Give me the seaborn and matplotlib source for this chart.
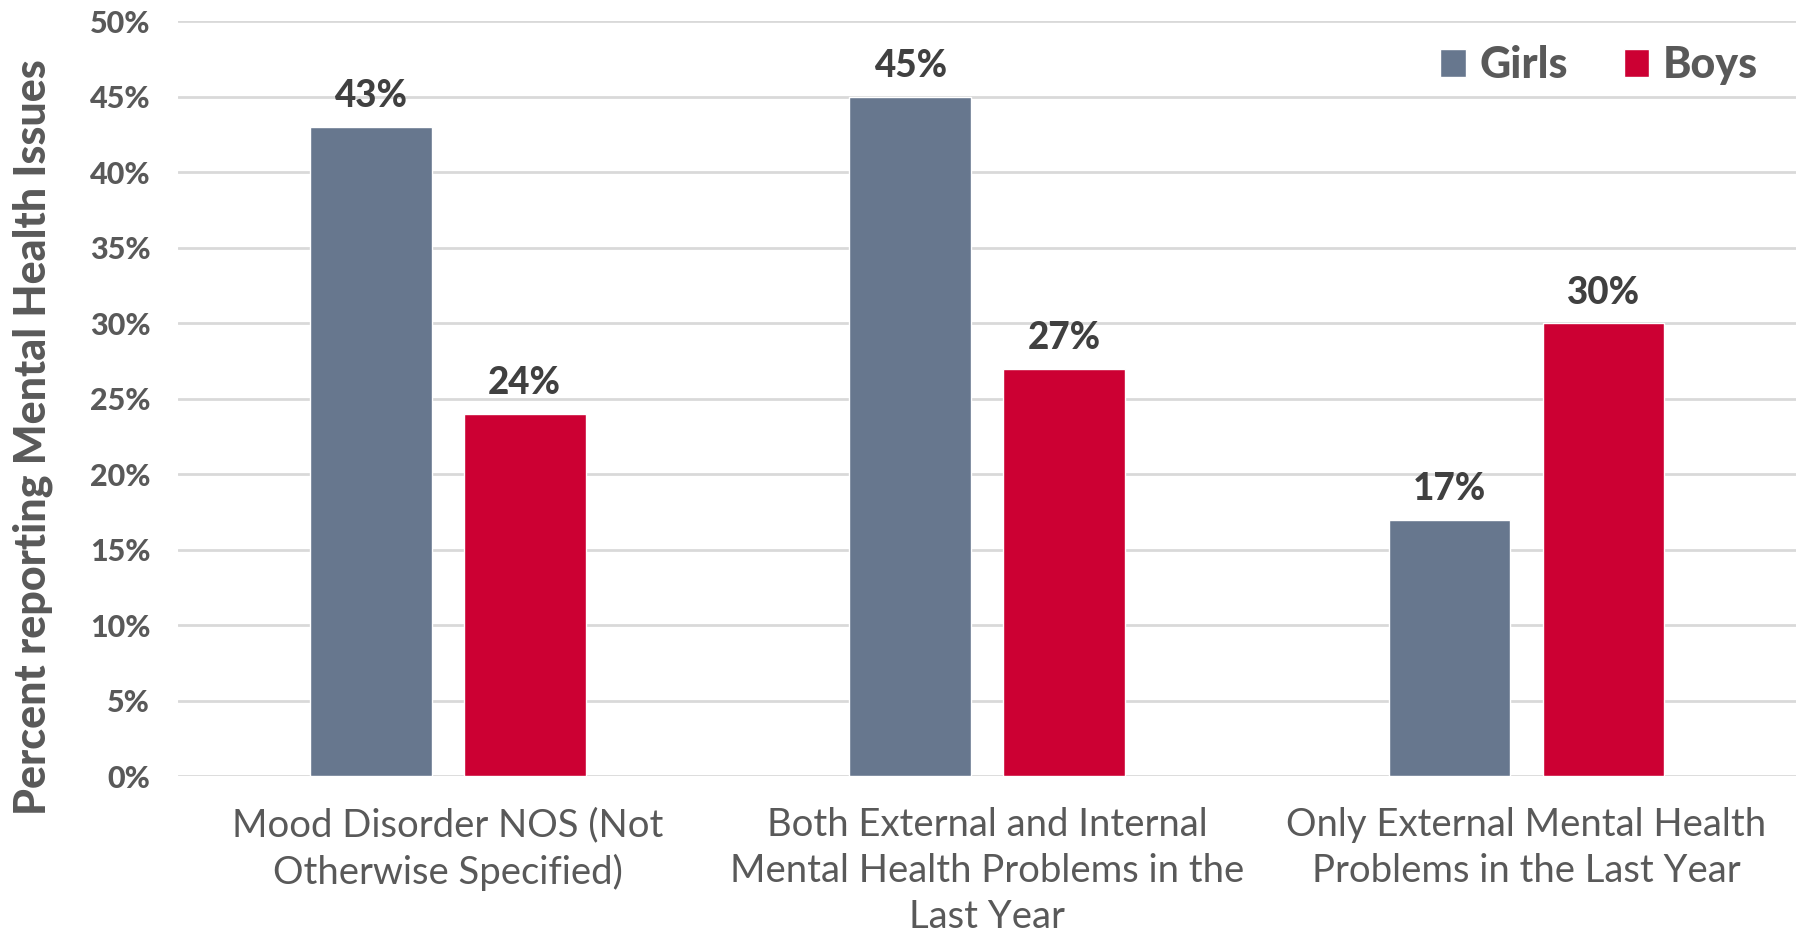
import matplotlib
matplotlib.use("Agg")
import matplotlib.pyplot as plt
import seaborn as sns
import pandas as pd
from matplotlib.patches import Patch
from matplotlib.ticker import FuncFormatter, MultipleLocator

categories = [
    "Mood Disorder NOS (Not\nOtherwise Specified)",
    "Both External and Internal\nMental Health Problems in the\nLast Year",
    "Only External Mental Health\nProblems in the Last Year",
]
girls = [43, 45, 17]
boys = [24, 27, 30]
groups = ["Girls", "Boys"]
colors = {"Girls": "#67778E", "Boys": "#CC0033"}

df = pd.DataFrame({
    "category": categories * 2,
    "group": ["Girls"] * 3 + ["Boys"] * 3,
    "value": girls + boys,
})

sns.set_theme(style="white")
plt.rcParams["font.family"] = ["Lato", "DejaVu Sans"]

fig = plt.figure(figsize=(18.02, 9.32), dpi=100)
ax = fig.add_axes([0.0988, 0.167, 0.898, 0.810])

sns.barplot(data=df, x="category", y="value", hue="group", order=categories,
            hue_order=groups, palette=colors, width=0.571, gap=0.21,
            saturation=1, legend=False, ax=ax, zorder=3)

for cont in ax.containers:
    ax.bar_label(cont, labels=[f"{v:.0f}%" for v in cont.datavalues],
                 padding=10, fontsize=26.5, fontweight="black", color="#404040")

ax.set_ylim(0, 50)
ax.set_xlim(-0.5, 2.5)
ax.yaxis.set_major_locator(MultipleLocator(5))
ax.yaxis.set_major_formatter(FuncFormatter(lambda v, _: f"{v:.0f}%"))
ax.grid(axis="y", color="#d9d9d9", linewidth=2, zorder=0)
ax.set_axisbelow(True)
for s in ax.spines.values():
    s.set_visible(False)

ax.tick_params(axis="y", length=0, pad=20, labelsize=22, labelcolor="#595959")
for t in ax.get_yticklabels():
    t.set_fontweight("black")
ax.tick_params(axis="x", length=0, pad=22, labelsize=27.5, labelcolor="#595959")
for t in ax.get_xticklabels():
    t.set_linespacing(1.35)

ax.set_xlabel("")
ax.set_ylabel("Percent reporting Mental Health Issues", fontsize=31,
              fontweight="black", color="#595959")
ax.yaxis.set_label_coords(-0.077, 0.449)

handles = [Patch(facecolor=colors[g], label=g) for g in groups]
leg = ax.legend(handles=handles, loc="upper right", ncol=2, frameon=False,
                fontsize=31, handlelength=0.6, handleheight=0.6,
                handletextpad=0.3, columnspacing=1.3,
                bbox_to_anchor=(1.0, 1.02))
for t in leg.get_texts():
    t.set_color("#595959")
    t.set_fontweight("black")

fig.savefig("out.png", dpi=100)
